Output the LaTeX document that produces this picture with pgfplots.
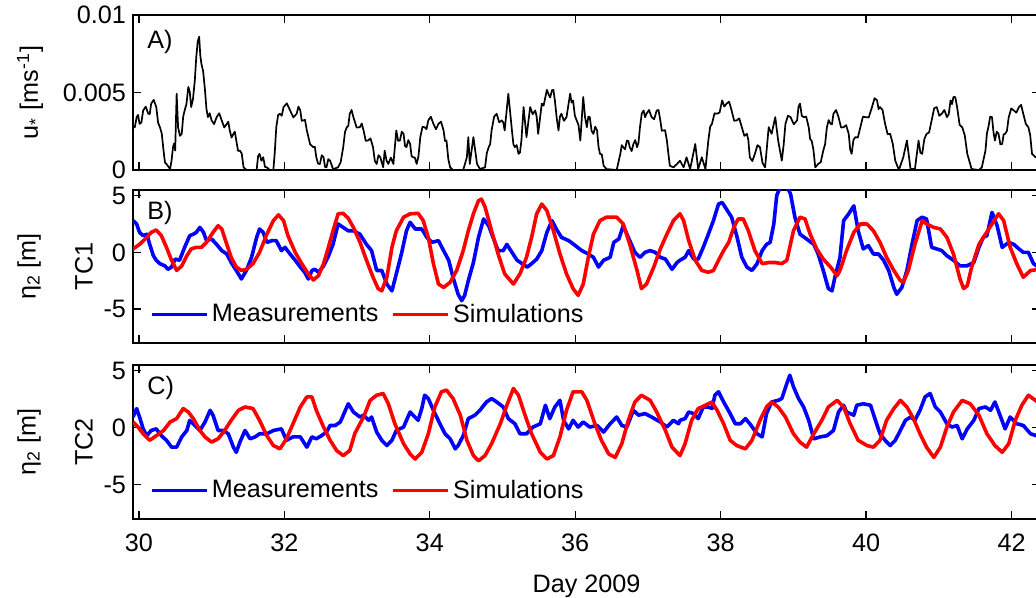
\documentclass[border=0pt]{standalone}
\usepackage{fontspec}
\setmainfont{Liberation Sans}
\usepackage{pgfplots}
\pgfplotsset{compat=1.18}

\newcommand{\fs}{\fontsize{12.6}{15}\selectfont}

\pgfplotsset{
  panel/.style={
    scale only axis, width=453.5pt,
    xmin=29.92, xmax=42.39,
    xtick={30,32,...,42},
    tick align=inside,
    major tick length=4pt,
    axis line style={line width=0.7pt},
    every tick/.style={line width=0.7pt, black},
    tick label style={font=\fs},
    /pgf/number format/assume math mode=true,
    label style={font=\fs},
    legend image code/.code={\draw[##1, line width=1.3pt] (0pt,0pt) -- (27.5pt,0pt);},
    legend style={draw=none, fill=none, font=\fs, legend columns=2,
      at={(axis description cs:0.012,0.185)}, anchor=west,
      /tikz/every even column/.append style={column sep=4.5pt}},
  },
  meas/.style={blue, line width=1.8pt, line join=round},
  simu/.style={red, line width=1.8pt, line join=round},
}

\begin{document}
\begin{tikzpicture}

% A) friction velocity
\begin{axis}[panel, at={(0pt,174.5pt)}, anchor=south west, height=77.5pt,
  ymin=0, ymax=0.01, ytick={0,0.005,0.01}, yticklabels={0,0.005,0.01},
  scaled y ticks=false, xticklabels={},
  ylabel={u\textsubscript{*} [ms\textsuperscript{-1}]},
  ylabel style={at={(axis description cs:-0.1136,0.5)}, anchor=center}]
\addplot[black, line width=0.85pt, line join=round] coordinates {
(29.92,0.00276) (29.945,0.00275) (29.97,0.00341) (29.99,0.00355) (30.01,0.00298)
(30.035,0.00306) (30.06,0.00384) (30.095,0.00409) (30.13,0.00363) (30.15,0.00361)
(30.17,0.00428) (30.205,0.00452) (30.24,0.00406) (30.265,0.00306) (30.29,0.00276)
(30.315,0.00236) (30.34,0.00125) (30.36,0.00047) (30.38,0.00039) (30.43,0.00006)
(30.45,0.00060) (30.47,0.00147) (30.485,0.00171) (30.50,0.00125) (30.52,0.00492)
(30.54,0.00276) (30.565,0.00220) (30.59,0.00233) (30.61,0.00344) (30.63,0.00384)
(30.655,0.00425) (30.68,0.00536) (30.70,0.00506) (30.72,0.00406) (30.745,0.00458)
(30.77,0.00579) (30.79,0.00730) (30.81,0.00830) (30.83,0.00860) (30.845,0.00740)
(30.86,0.00687) (30.885,0.00635) (30.91,0.00514) (30.93,0.00393) (30.95,0.00341)
(30.975,0.00366) (31.00,0.00320) (31.035,0.00296) (31.07,0.00341) (31.105,0.00366)
(31.14,0.00320) (31.175,0.00274) (31.21,0.00298) (31.23,0.00312) (31.25,0.00255)
(31.275,0.00209) (31.30,0.00233) (31.32,0.00247) (31.34,0.00190) (31.365,0.00123)
(31.39,0.00125) (31.415,0.00106) (31.44,0.00017) (31.48,0) (31.62,0)
(31.64,0.00090) (31.66,0.00104) (31.685,0.00060) (31.71,0.00082) (31.735,0.00020)
(31.76,0.00017) (31.80,0) (31.85,0) (31.87,0.00120) (31.89,0.00276)
(31.915,0.00354) (31.94,0.00363) (31.965,0.00350) (31.99,0.00406) (32.035,0.00430)
(32.08,0.00384) (32.125,0.00339) (32.17,0.00363) (32.195,0.00409) (32.22,0.00384)
(32.24,0.00317) (32.26,0.00320) (32.285,0.00323) (32.31,0.00255) (32.355,0.00166)
(32.40,0.00147) (32.42,0.00150) (32.44,0.00082) (32.465,0.00040) (32.49,0.00039)
(32.515,0.00095) (32.54,0.00082) (32.56,0.00020) (32.58,0.00017) (32.605,0.00070)
(32.63,0.00060) (32.67,0.00006) (32.74,0.00017) (32.775,0.00050) (32.81,0.00147)
(32.835,0.00246) (32.86,0.00276) (32.88,0.00285) (32.90,0.00363) (32.925,0.00387)
(32.95,0.00341) (32.995,0.00274) (33.04,0.00276) (33.065,0.00300) (33.09,0.00255)
(33.12,0.00188) (33.15,0.00190) (33.185,0.00204) (33.22,0.00147) (33.245,0.00058)
(33.27,0.00039) (33.295,0.00096) (33.32,0.00082) (33.36,0.00017) (33.38,0.00125)
(33.405,0.00062) (33.43,0.00039) (33.465,0.00080) (33.50,0.00039) (33.54,0.00255)
(33.565,0.00188) (33.59,0.00190) (33.615,0.00247) (33.64,0.00233) (33.66,0.00155)
(33.68,0.00147) (33.705,0.00193) (33.73,0.00168) (33.75,0.00090) (33.77,0.00082)
(33.795,0.00080) (33.82,0.00039) (33.845,0.00090) (33.87,0.00212) (33.90,0.00279)
(33.93,0.00276) (33.955,0.00263) (33.98,0.00320) (34.015,0.00344) (34.05,0.00298)
(34.085,0.00263) (34.12,0.00298) (34.155,0.00312) (34.19,0.00255) (34.21,0.00187)
(34.23,0.00190) (34.255,0.00070) (34.28,0.00017) (34.32,0) (34.46,0)
(34.51,0.00082) (34.53,0.00212) (34.55,0.00039) (34.60,0.00212) (34.65,0.00039)
(34.69,0.00006) (34.76,0.00017) (34.785,0.00110) (34.81,0.00147) (34.83,0.00166)
(34.85,0.00255) (34.885,0.00344) (34.92,0.00363) (34.955,0.00307) (34.99,0.00320)
(35.01,0.00308) (35.03,0.00255) (35.08,0.00492) (35.13,0.00255) (35.15,0.00166)
(35.17,0.00147) (35.195,0.00161) (35.22,0.00104) (35.24,0.00112) (35.26,0.00190)
(35.29,0.00406) (35.33,0.00212) (35.38,0.00406) (35.415,0.00360) (35.45,0.00384)
(35.47,0.00344) (35.49,0.00233) (35.54,0.00428) (35.565,0.00415) (35.59,0.00471)
(35.61,0.00517) (35.63,0.00492) (35.655,0.00468) (35.68,0.00514) (35.70,0.00517)
(35.72,0.00449) (35.745,0.00337) (35.77,0.00255) (35.79,0.00344) (35.81,0.00363)
(35.845,0.00317) (35.88,0.00341) (35.93,0.00492) (35.95,0.00435) (35.97,0.00449)
(35.995,0.00350) (36.02,0.00320) (36.045,0.00290) (36.07,0.00190) (36.11,0.00471)
(36.135,0.00340) (36.16,0.00276) (36.18,0.00344) (36.20,0.00341) (36.225,0.00252)
(36.25,0.00233) (36.275,0.00279) (36.30,0.00255) (36.32,0.00150) (36.34,0.00104)
(36.365,0.00101) (36.39,0.00028) (36.43,0.00006) (36.57,0) (36.62,0.00104)
(36.64,0.00160) (36.66,0.00147) (36.685,0.00134) (36.71,0.00190) (36.73,0.00187)
(36.75,0.00147) (36.775,0.00122) (36.80,0.00168) (36.825,0.00193) (36.85,0.00147)
(36.87,0.00177) (36.89,0.00276) (36.915,0.00365) (36.94,0.00384) (36.96,0.00340)
(36.98,0.00363) (37.015,0.00387) (37.05,0.00341) (37.085,0.00327) (37.12,0.00384)
(37.145,0.00387) (37.17,0.00320) (37.19,0.00253) (37.21,0.00255) (37.235,0.00257)
(37.26,0.00190) (37.30,0.00028) (37.35,0.00017) (37.40,0.00039) (37.44,0.00060)
(37.49,0.00017) (37.53,0.00082) (37.58,0.00006) (37.65,0.00168) (37.69,0.00006)
(37.74,0.00082) (37.79,0.00006) (37.83,0.00190) (37.855,0.00279) (37.88,0.00298)
(37.915,0.00366) (37.95,0.00363) (37.985,0.00371) (38.02,0.00449) (38.05,0.00409)
(38.08,0.00428) (38.115,0.00441) (38.15,0.00384) (38.185,0.00317) (38.22,0.00320)
(38.255,0.00333) (38.29,0.00276) (38.325,0.00220) (38.36,0.00233) (38.38,0.00193)
(38.40,0.00082) (38.435,0.00058) (38.47,0.00104) (38.505,0.00160) (38.54,0.00147)
(38.575,0.00045) (38.61,0.00017) (38.66,0.00276) (38.70,0.00233) (38.75,0.00341)
(38.79,0.00190) (38.84,0.00060) (38.865,0.00160) (38.89,0.00298) (38.925,0.00350)
(38.96,0.00341) (39.005,0.00295) (39.05,0.00320) (39.07,0.00409) (39.09,0.00428)
(39.115,0.00350) (39.14,0.00341) (39.175,0.00344) (39.21,0.00276) (39.23,0.00198)
(39.25,0.00190) (39.275,0.00130) (39.30,0.00017) (39.34,0.00039) (39.375,0.00050)
(39.41,0.00125) (39.435,0.00166) (39.46,0.00276) (39.485,0.00322) (39.51,0.00298)
(39.53,0.00296) (39.55,0.00363) (39.585,0.00387) (39.62,0.00341) (39.655,0.00274)
(39.69,0.00276) (39.725,0.00289) (39.76,0.00233) (39.78,0.00133) (39.80,0.00104)
(39.825,0.00193) (39.85,0.00212) (39.885,0.00209) (39.92,0.00276) (39.955,0.00344)
(39.99,0.00341) (40.035,0.00339) (40.08,0.00406) (40.115,0.00463) (40.15,0.00449)
(40.17,0.00393) (40.19,0.00406) (40.225,0.00387) (40.26,0.00298) (40.295,0.00231)
(40.33,0.00233) (40.365,0.00170) (40.40,0.00060) (40.45,0) (40.51,0.00082)
(40.56,0.00190) (40.61,0.00006) (40.67,0.00006) (40.72,0.00190) (40.745,0.00112)
(40.77,0.00104) (40.80,0.00200) (40.83,0.00233) (40.865,0.00242) (40.90,0.00320)
(40.935,0.00398) (40.97,0.00406) (41.005,0.00350) (41.04,0.00363) (41.075,0.00387)
(41.11,0.00341) (41.135,0.00360) (41.16,0.00449) (41.18,0.00425) (41.20,0.00471)
(41.225,0.00470) (41.25,0.00406) (41.285,0.00291) (41.32,0.00276) (41.355,0.00225)
(41.39,0.00104) (41.45,0.00006) (41.55,0) (41.59,0.00017) (41.64,0.00125)
(41.66,0.00236) (41.68,0.00276) (41.705,0.00344) (41.73,0.00341) (41.75,0.00245)
(41.77,0.00190) (41.795,0.00247) (41.82,0.00233) (41.845,0.00165) (41.87,0.00168)
(41.89,0.00230) (41.91,0.00233) (41.935,0.00252) (41.96,0.00341) (41.995,0.00397)
(42.03,0.00384) (42.065,0.00370) (42.10,0.00406) (42.13,0.00420) (42.16,0.00363)
(42.195,0.00297) (42.23,0.00276) (42.255,0.00225) (42.28,0.00104) (42.33,0.00082)
(42.39,0.00090)
};
\node[anchor=west, font=\fs] at (axis description cs:0.008,0.826) {A)};
\end{axis}

% B) TC1
\begin{axis}[panel, at={(0pt,88pt)}, anchor=south west, height=76.5pt,
  ymin=-8, ymax=5.5, ytick={-5,0,5}, yticklabels={-5,0,5}, xticklabels={},
  ylabel={η\textsubscript{2} [m]\\[13.5pt]TC1},
  ylabel style={at={(axis description cs:-0.086,0.5)}, anchor=center, align=center}]
\addplot[meas] coordinates {
(29.92,2.8) (29.97,2.5) (30.01,1.76) (30.06,1.47) (30.11,1.6) (30.15,0.7) (30.20,-0.3)
(30.24,-0.7) (30.29,-1.0) (30.36,-1.2) (30.40,-1.5) (30.45,-1.3) (30.50,-0.6) (30.56,-0.7)
(30.63,0.44) (30.70,1.47) (30.75,1.6) (30.79,1.76) (30.84,2.2) (30.89,1.76) (30.93,1.03)
(31.00,1.18) (31.07,0.7) (31.14,0.15) (31.21,-0.15) (31.27,-0.9) (31.34,-1.6) (31.41,-2.35)
(31.48,-1.6) (31.55,-0.44) (31.62,1.32) (31.66,2.06) (31.71,1.76) (31.76,0.88) (31.83,1.03)
(31.89,1.03) (31.96,0.15) (32.01,0.44) (32.08,-0.15) (32.15,-0.7) (32.22,-1.3) (32.28,-1.76)
(32.33,-2.35) (32.38,-1.6) (32.42,-1.5) (32.47,-1.76) (32.54,-1.2) (32.60,-0.44) (32.67,0.7)
(32.74,2.5) (32.81,2.2) (32.88,1.9) (32.95,1.9) (33.04,1.6) (33.13,0.7) (33.20,0.15)
(33.27,-1.6) (33.34,-1.6) (33.41,-2.8) (33.48,-3.4) (33.54,-1.9) (33.61,-0.15) (33.68,1.9)
(33.73,2.65) (33.80,2.06) (33.89,2.06) (33.96,1.32) (34.03,0.88) (34.12,1.03) (34.19,0.15)
(34.26,-0.7) (34.32,-2.2) (34.39,-3.7) (34.44,-4.26) (34.48,-3.8) (34.53,-2.5) (34.60,-0.9)
(34.67,1.32) (34.74,2.94) (34.81,2.35) (34.87,1.32) (34.94,0.15) (35.01,0.15) (35.06,0.7)
(35.13,0) (35.20,-0.7) (35.27,-1.0) (35.34,-1.3) (35.40,-1.0) (35.47,-0.6) (35.54,0.15)
(35.61,1.76) (35.68,2.8) (35.74,2.06) (35.81,1.32) (35.91,1.03) (36.00,0.6) (36.09,0.15)
(36.18,-0.15) (36.25,-0.44) (36.32,-1.3) (36.39,-0.7) (36.48,-0.44) (36.53,0.88) (36.60,1.18)
(36.66,2.35) (36.73,1.32) (36.82,0) (36.89,-0.44) (36.96,0) (37.03,0.15) (37.10,0)
(37.17,-0.44) (37.24,-0.6) (37.33,-1.5) (37.40,-0.9) (37.44,-0.7) (37.51,-0.44) (37.56,0.15)
(37.63,-0.6) (37.69,-0.6) (37.76,0.44) (37.83,1.6) (37.90,2.8) (37.97,4.26) (38.02,4.4)
(38.08,3.8) (38.15,3.1) (38.22,1.47) (38.29,-0.44) (38.36,-1.3) (38.43,-1.6) (38.50,-1.0)
(38.57,0.15) (38.63,0.7) (38.68,0.88) (38.73,2.5) (38.77,5.0) (38.82,5.8) (38.91,5.8)
(38.96,5.15) (39.02,3.1) (39.09,1.6) (39.18,1.18) (39.28,0.7) (39.34,-0.15) (39.41,-1.6)
(39.48,-3.2) (39.53,-3.4) (39.57,-2.2) (39.64,-0.44) (39.69,2.8) (39.76,3.4) (39.83,4.1)
(39.89,1.9) (39.96,0.3) (40.03,0.6) (40.10,-0.15) (40.17,-0.15) (40.24,-0.7) (40.31,-1.6)
(40.38,-3.1) (40.42,-3.7) (40.49,-3.1) (40.56,-1.6) (40.63,0.7) (40.70,2.8) (40.77,3.1)
(40.83,2.94) (40.90,0.44) (40.97,0.3) (41.04,0.15) (41.11,-0.3) (41.20,-0.7) (41.29,-1.2)
(41.38,-1.2) (41.48,-0.9) (41.55,0.44) (41.61,1.32) (41.66,1.47) (41.73,3.53) (41.80,2.35)
(41.87,0.44) (41.96,0.88) (42.03,0.7) (42.10,0.3) (42.16,0) (42.23,0) (42.30,-1.0)
(42.39,-1.4)
};
\addplot[simu] coordinates {
(29.92,0.3) (30.01,0.7) (30.11,1.32) (30.17,1.76) (30.24,1.97) (30.31,1.47) (30.38,0.44)
(30.45,-0.7) (30.52,-1.6) (30.59,-1.2) (30.66,-0.3) (30.72,0.3) (30.79,0.44) (30.86,0.44)
(30.93,0.88) (31.02,1.76) (31.09,2.35) (31.14,2.06) (31.21,0.7) (31.27,-0.44) (31.34,-1.3)
(31.41,-1.6) (31.48,-1.5) (31.57,-1.0) (31.66,0) (31.76,1.6) (31.85,2.8) (31.92,3.3)
(31.99,2.8) (32.05,1.47) (32.15,0) (32.24,-1.0) (32.33,-1.9) (32.40,-2.44) (32.47,-2.06)
(32.54,-1.0) (32.60,0.3) (32.67,1.9) (32.74,3.4) (32.81,3.44) (32.88,3.0) (32.95,2.2)
(33.04,0.9) (33.13,-0.7) (33.22,-2.2) (33.29,-3.2) (33.34,-3.4) (33.41,-2.2) (33.48,0.44)
(33.54,1.9) (33.64,3.1) (33.73,3.4) (33.84,3.44) (33.91,2.8) (33.98,1.32) (34.05,-1.0)
(34.12,-2.8) (34.19,-3.1) (34.28,-2.65) (34.37,-1.6) (34.46,0.15) (34.53,1.9) (34.60,3.4)
(34.67,4.56) (34.71,4.7) (34.76,4.0) (34.85,1.9) (34.94,-0.15) (35.03,-1.9) (35.15,-2.8)
(35.24,-1.9) (35.33,-0.44) (35.40,1.32) (35.47,3.4) (35.54,4.26) (35.61,3.68) (35.70,1.9)
(35.79,-0.15) (35.88,-1.9) (35.97,-3.2) (36.04,-3.8) (36.11,-2.8) (36.18,-0.44) (36.25,1.6)
(36.34,2.8) (36.43,3.1) (36.57,3.1) (36.66,2.5) (36.75,0.7) (36.85,-1.6) (36.91,-3.2)
(36.98,-2.8) (37.08,-1.3) (37.17,0.3) (37.26,1.6) (37.35,2.8) (37.44,3.4) (37.49,2.8)
(37.56,1.03) (37.65,-0.7) (37.74,-1.6) (37.83,-1.76) (37.90,-1.6) (37.97,-0.7) (38.04,0.15)
(38.11,0.88) (38.18,2.2) (38.24,2.94) (38.31,2.94) (38.38,1.9) (38.47,0.15) (38.57,-1.0)
(38.66,-0.9) (38.75,-0.9) (38.84,-1.0) (38.91,-0.7) (39.00,1.9) (39.09,3.1) (39.16,2.94)
(39.23,1.6) (39.32,0.3) (39.41,-0.6) (39.51,-1.3) (39.60,-2.06) (39.64,-1.6) (39.73,0.15)
(39.83,1.76) (39.92,2.5) (40.01,2.5) (40.10,1.9) (40.19,0.88) (40.28,-0.44) (40.38,-1.6)
(40.47,-2.5) (40.51,-2.65) (40.58,-1.6) (40.67,0.7) (40.77,2.8) (40.83,2.5) (40.93,2.2)
(41.02,2.06) (41.11,1.32) (41.20,-0.15) (41.29,-2.35) (41.34,-3.2) (41.39,-2.94) (41.45,-1.3)
(41.55,0.7) (41.64,1.6) (41.73,2.5) (41.82,3.4) (41.89,2.8) (41.98,0.44) (42.07,-1.0)
(42.16,-2.2) (42.26,-1.6) (42.39,-1.5)
};
\legend{Measurements, Simulations}
\node[anchor=west, font=\fs] at (axis description cs:0.008,0.85) {B)};
\end{axis}

% C) TC2
\begin{axis}[panel, at={(0pt,0pt)}, anchor=south west, height=77pt,
  ymin=-8, ymax=5.5, ytick={-5,0,5}, yticklabels={-5,0,5},
  xticklabels={30,32,34,36,38,40,42},
  xticklabel style={yshift=-4pt},
  xlabel={Day 2009},
  xlabel style={at={(axis description cs:0.5,-0.435)}, anchor=center},
  ylabel={η\textsubscript{2} [m]\\[13.5pt]TC2},
  ylabel style={at={(axis description cs:-0.086,0.5)}, anchor=center, align=center}]
\addplot[meas] coordinates {
(29.92,0.94) (29.97,1.68) (30.01,0.94) (30.06,-0.1) (30.11,-0.7) (30.17,-0.24) (30.24,-0.1)
(30.31,-0.7) (30.38,-1.1) (30.45,-1.7) (30.52,-1.7) (30.59,-0.8) (30.66,-0.24) (30.70,0.65)
(30.77,0.2) (30.84,-0.24) (30.91,0.5) (30.98,1.53) (31.02,1.1) (31.09,-0.24) (31.16,-0.24)
(31.23,-0.53) (31.30,-1.7) (31.34,-2.15) (31.39,-1.26) (31.46,-0.24) (31.53,-0.97) (31.60,-0.8)
(31.66,-0.53) (31.76,-0.53) (31.85,-0.24) (31.96,-0.1) (32.03,-1.1) (32.12,-0.8) (32.22,-0.8)
(32.31,-1.7) (32.38,-0.8) (32.44,-0.97) (32.51,-0.7) (32.58,-0.38) (32.63,0.2) (32.70,0.2)
(32.77,0.5) (32.83,1.38) (32.88,2.1) (32.95,1.38) (33.04,0.94) (33.09,1.1) (33.16,0.65)
(33.20,0.94) (33.27,-0.38) (33.34,-1.1) (33.41,-1.56) (33.48,-1.1) (33.54,-0.24) (33.64,0.06)
(33.73,1.38) (33.77,1.1) (33.84,0.65) (33.89,1.68) (33.93,2.85) (33.98,2.56) (34.05,1.53)
(34.14,0.35) (34.21,-0.53) (34.28,-0.97) (34.35,-1.85) (34.39,-1.56) (34.46,-0.7) (34.53,0.8)
(34.62,1.1) (34.69,1.53) (34.78,2.26) (34.85,2.56) (34.92,2.26) (35.01,1.82) (35.08,0.8)
(35.17,0.35) (35.24,-0.53) (35.33,-0.53) (35.42,0.06) (35.52,0.35) (35.59,1.97) (35.65,0.8)
(35.72,1.82) (35.79,2.4) (35.84,0.65) (35.91,-0.1) (35.97,0.65) (36.04,0.06) (36.11,0.5)
(36.20,0.06) (36.30,0.2) (36.39,-0.38) (36.48,0.35) (36.57,0.94) (36.64,0.2) (36.71,0.06)
(36.80,1.53) (36.87,1.1) (36.96,1.24) (37.05,0.94) (37.17,0.5) (37.26,0.06) (37.35,0.65)
(37.42,0.35) (37.44,0.65) (37.51,0.8) (37.56,1.38) (37.63,1.24) (37.69,0.8) (37.76,1.82)
(37.83,1.82) (37.88,1.68) (37.92,2.85) (37.97,3.15) (38.04,2.26) (38.13,1.24) (38.20,0.35)
(38.27,0.35) (38.34,0.8) (38.40,0.35) (38.50,-0.53) (38.57,-0.8) (38.63,1.24) (38.70,2.26)
(38.79,2.4) (38.84,2.56) (38.91,3.9) (38.95,4.6) (39.00,3.6) (39.07,2.56) (39.14,1.82)
(39.21,0.65) (39.28,-0.97) (39.37,-0.8) (39.46,-0.7) (39.55,-0.24) (39.62,1.38) (39.69,1.97)
(39.73,1.38) (39.83,1.1) (39.87,1.97) (39.96,2.1) (40.06,1.97) (40.12,0.8) (40.19,-0.53)
(40.26,-1.1) (40.33,-1.56) (40.40,-1.1) (40.47,-0.24) (40.54,0.65) (40.61,0.94) (40.67,0.65)
(40.74,1.53) (40.81,2.7) (40.88,3.0) (40.95,1.82) (41.02,1.38) (41.11,0.35) (41.18,0.06)
(41.25,0.2) (41.32,-0.97) (41.39,-0.1) (41.48,0.65) (41.55,1.68) (41.64,1.82) (41.71,1.53)
(41.77,2.26) (41.84,1.1) (41.91,-0.1) (41.98,0.94) (42.07,0.35) (42.16,0.2) (42.26,-0.53)
(42.39,-0.8)
};
\addplot[simu] coordinates {
(29.92,0.5) (29.99,0.06) (30.06,-0.53) (30.15,-1.1) (30.24,-0.7) (30.34,-0.24) (30.43,0.5)
(30.52,0.8) (30.61,1.68) (30.68,1.38) (30.75,0.8) (30.84,-0.24) (30.91,-0.8) (31.00,-1.26)
(31.09,-0.97) (31.18,-0.24) (31.27,0.65) (31.37,1.53) (31.46,1.82) (31.57,1.68) (31.66,0.65)
(31.76,-0.7) (31.85,-1.56) (31.94,-1.85) (32.03,-0.97) (32.12,0.35) (32.22,1.82) (32.31,2.7)
(32.38,2.7) (32.44,1.53) (32.54,0.06) (32.63,-1.1) (32.72,-2.0) (32.81,-2.44) (32.90,-2.0)
(32.97,-0.5) (33.04,0.35) (33.09,0.94) (33.18,2.4) (33.27,2.85) (33.36,3.0) (33.43,2.1)
(33.52,0.35) (33.64,-1.4) (33.73,-2.3) (33.80,-2.74) (33.89,-2.15) (33.98,-0.53) (34.07,1.82)
(34.16,3.15) (34.23,3.3) (34.32,2.56) (34.42,1.1) (34.51,-1.1) (34.60,-2.44) (34.67,-2.9)
(34.76,-2.44) (34.85,-1.4) (34.97,0.35) (35.06,1.97) (35.15,3.44) (35.22,2.85) (35.31,1.1)
(35.40,-0.53) (35.52,-2.15) (35.61,-2.74) (35.70,-2.44) (35.79,-0.8) (35.88,1.53) (35.97,3.15)
(36.09,3.15) (36.16,2.4) (36.27,0.35) (36.36,-1.1) (36.46,-2.3) (36.55,-2.6) (36.64,-1.4)
(36.73,0.65) (36.82,2.26) (36.91,2.85) (37.03,2.4) (37.12,1.38) (37.24,-0.24) (37.33,-1.7)
(37.44,-2.44) (37.51,-1.4) (37.60,0.65) (37.69,1.68) (37.79,1.97) (37.88,2.26) (37.95,1.53)
(38.04,0.35) (38.13,-1.1) (38.22,-1.56) (38.34,-1.85) (38.43,-1.1) (38.54,0.65) (38.63,1.82)
(38.70,2.26) (38.79,1.82) (38.89,0.94) (39.00,-0.53) (39.09,-1.26) (39.18,-1.7) (39.28,-0.53)
(39.39,0.65) (39.48,1.82) (39.60,2.4) (39.69,1.82) (39.78,0.35) (39.89,-1.1) (40.01,-1.56)
(40.10,-1.7) (40.19,-1.1) (40.28,0.65) (40.38,1.68) (40.47,2.4) (40.56,1.82) (40.65,0.8)
(40.74,-0.53) (40.83,-1.7) (40.93,-2.6) (41.02,-1.7) (41.11,0.06) (41.20,1.38) (41.32,2.4)
(41.43,2.1) (41.55,1.1) (41.66,-0.53) (41.77,-1.56) (41.87,-2.15) (41.96,-1.4) (42.05,0.65)
(42.14,1.97) (42.23,2.85) (42.39,2.1)
};
\legend{Measurements, Simulations}
\node[anchor=west, font=\fs] at (axis description cs:0.008,0.85) {C)};
\end{axis}

\pgfresetboundingbox
\useasboundingbox (-66.5pt,-39.5pt) rectangle (451.5pt,259.5pt);
\end{tikzpicture}
\end{document}
